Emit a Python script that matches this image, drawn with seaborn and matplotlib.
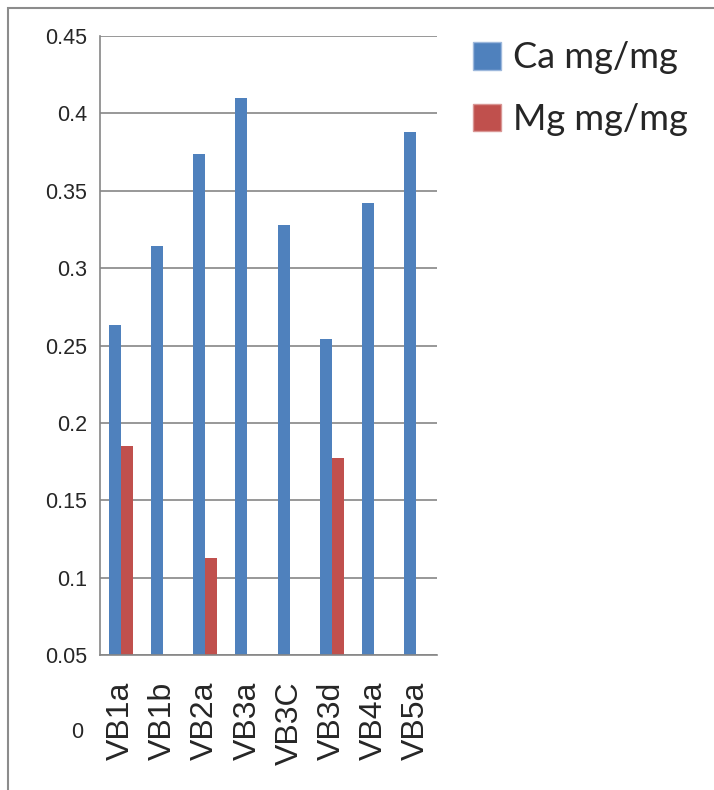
import matplotlib
matplotlib.use("Agg")
import matplotlib.pyplot as plt
import seaborn as sns
import pandas as pd
import numpy as np
from matplotlib.patches import Rectangle, Patch

categories = ["VB1a", "VB1b", "VB2a", "VB3a", "VB3C", "VB3d", "VB4a", "VB5a"]
ca_values = [0.263, 0.314, 0.374, 0.410, 0.328, 0.254, 0.342, 0.388]
mg_values = [0.185, None, 0.113, None, None, 0.177, None, None]
series_names = ["Ca mg/mg", "Mg mg/mg"]
y_ticks = [0.05, 0.1, 0.15, 0.2, 0.25, 0.3, 0.35, 0.4, 0.45]
y_tick_labels = ["0.05", "0.1", "0.15", "0.2", "0.25", "0.3", "0.35", "0.4", "0.45"]

rows = []
for c, v in zip(categories, ca_values):
    rows.append({"cat": c, "series": series_names[0], "val": v})
for c, v in zip(categories, mg_values):
    if v is not None:
        rows.append({"cat": c, "series": series_names[1], "val": v})
df = pd.DataFrame(rows)

sns.set_style("white")
plt.rcParams['font.family'] = ['Liberation Sans', 'DejaVu Sans']

W, H = 714, 790
fig = plt.figure(figsize=(W / 100, H / 100), dpi=100)
ax = fig.add_axes([100 / W, 1 - 655 / H, (437 - 100) / W, (655 - 36) / H])

colors = ["#4F81BD", "#C0504D"]
sns.barplot(data=df, x="cat", y="val", hue="series", order=categories,
            hue_order=series_names, palette=colors, width=0.57, gap=0,
            ax=ax, legend=False, saturation=1, errorbar=None, linewidth=0)

ax.set_ylim(0.05, 0.45)
ax.set_xlim(-0.5, len(categories) - 0.5)
ax.set_yticks(y_ticks)
ax.set_yticklabels(y_tick_labels, fontsize=15.5)
ax.set_xlabel("")
ax.set_ylabel("")
ax.set_xticks(range(len(categories)))
ax.set_xticklabels(categories, rotation=90, fontsize=23)
ax.set_xticks(np.arange(-0.5, len(categories), 1.0), minor=True)
ax.tick_params(axis="x", which="major", length=0, pad=19)
ax.tick_params(axis="x", which="minor", length=10, width=1.2, color="#868686", direction="out")
ax.tick_params(axis="y", which="major", length=6, width=1.2, color="#868686", direction="out", pad=3)

ax.grid(axis="y", color="#868686", linewidth=1.2)
ax.set_axisbelow(True)
for s in ["top", "right"]:
    ax.spines[s].set_visible(False)
for s in ["left", "bottom"]:
    ax.spines[s].set_color("#868686")
    ax.spines[s].set_linewidth(1.2)

fig.text(77 / W, 1 - 733 / H, "0", fontsize=15.5, ha="center", va="center")

# outer frame
fig.add_artist(Rectangle((8 / W, -0.1), 1.2, 1 - 8 / H + 0.1, transform=fig.transFigure,
                         fill=False, edgecolor="#8c8c8c", linewidth=1.5))

handles = [Patch(facecolor=colors[0], edgecolor="#9db8dc"), Patch(facecolor=colors[1], edgecolor="#d99694")]
leg = fig.legend(handles, series_names, loc="upper left", bbox_to_anchor=(440 / W, 1 - 9 / H),
                 frameon=False, handlelength=0.78, handleheight=0.78,
                 handletextpad=0.35, labelspacing=0.78,
                 prop={"family": ["Lato", "DejaVu Sans"], "size": 26})

fig.savefig("out.png", dpi=100)
